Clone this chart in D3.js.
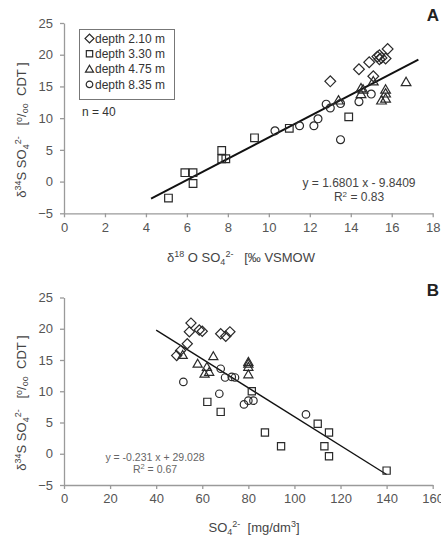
<!DOCTYPE html>
<html><head><meta charset="utf-8">
<script src="https://cdn.jsdelivr.net/npm/d3@7/dist/d3.min.js"></script>
<style>
html,body{margin:0;padding:0;background:#fff;}
svg text{font-family:"Liberation Sans",Arial,sans-serif;}
</style></head>
<body><svg id="c" width="441" height="538"></svg>
<script>
// ---------- DATA ----------
const depthLabels = ["depth 2.10 m","depth 3.30 m","depth 4.75 m","depth 8.35 m"];
const symbolsByDepth = ["diamond","square","triangle","circle"];

// Panel A: d18O (x) vs d34S (y)
const A_d210_x = [13.0,14.4,15.1,14.9,15.3,15.4,15.5,15.4,15.8,15.7];
const A_d210_y = [15.8,17.7,16.6,18.8,19.7,19.9,19.5,19.3,20.9,19.4];
const A_d330_x = [5.1,5.9,6.3,6.3,7.7,7.7,7.9,9.3,11.0,13.9];
const A_d330_y = [-2.6,1.4,1.4,-0.3,4.9,3.6,3.6,6.9,8.4,10.2];
const A_d475_x = [16.7,15.1,14.5,14.6,14.5,15.7,15.7,15.5,15.7,13.4];
const A_d475_y = [15.7,15.8,14.7,14.5,13.8,14.5,13.9,12.8,13.1,12.8];
const A_d835_x = [10.3,11.5,12.2,12.4,12.8,13.0,13.5,14.4,15.0,13.5];
const A_d835_y = [8.0,8.8,8.8,9.9,12.2,11.6,12.3,12.6,13.8,6.6];

// Panel B: SO4 (x) vs d34S (y)
const B_d210_x = [55.1,54.4,58.7,60.0,68.0,70.2,72.0,53.5,50.6,48.9];
const B_d210_y = [20.9,19.5,19.8,19.6,19.2,18.8,19.5,17.6,16.5,15.7];
const B_d330_x = [62.2,68.0,81.5,87.2,94.2,110.1,115.0,113.0,115.0,140.0];
const B_d330_y = [8.3,6.7,10.0,3.4,1.2,4.8,3.4,1.2,-0.4,-2.7];
const B_d475_x = [51.5,58.0,64.8,62.0,61.0,63.0,80.0,80.0,80.0,80.0];
const B_d475_y = [15.8,14.4,15.6,13.9,12.8,13.1,14.4,13.9,12.7,14.7];
const B_d835_x = [51.8,67.4,69.9,72.8,74.2,78.1,80.0,82.2,105.0,68.0];
const B_d835_y = [11.5,9.6,12.2,12.3,12.2,7.9,8.5,8.5,6.3,13.6];

const fitA = {slope:1.6801, intercept:-9.8409, x0:4.25, x1:17.3};
const fitB = {slope:-0.231, intercept:29.028, x0:40, x1:140};

const xTicksA = [0,2,4,6,8,10,12,14,16,18];
const xTicksB = [0,20,40,60,80,100,120,140,160];
const yTicks = [-5,0,5,10,15,20,25];

// ---------- DRAW ----------
const svg = d3.select("#c");
const axisCol = "#9a9a9a", textCol = "#555", markCol = "#2a2a2a";

function symPath(kind, size){
  if(kind==="diamond") return d3.symbol(d3.symbolSquare, size)();
  if(kind==="square") return d3.symbol(d3.symbolSquare, size)();
  if(kind==="triangle") return d3.symbol(d3.symbolTriangle, size*0.7)();
  return d3.symbol(d3.symbolCircle, size*0.85)();
}
function drawSym(g, kind, x, y, size){
  g.append("path").attr("d", symPath(kind,size))
   .attr("transform", `translate(${x},${y})` + (kind==="diamond"?" rotate(45)":"") + (kind==="triangle"?" translate(0,0.8)":""))
   .attr("fill","none").attr("stroke",markCol).attr("stroke-width",1.2);
}

function panel(opts){
  const x = d3.scaleLinear().domain(opts.xdom).range([64, 432.7]);
  const y = d3.scaleLinear().domain([-5,25]).range([opts.yBot, opts.yTop]);
  const g = svg.append("g");
  const xa = g.append("g").attr("transform",`translate(0,${opts.yBot})`)
    .call(d3.axisBottom(x).tickValues(opts.xticks).tickSize(4).tickSizeOuter(0).tickPadding(5));
  const ya = g.append("g").attr("transform",`translate(64,0)`)
    .call(d3.axisLeft(y).tickValues(yTicks).tickSize(4).tickSizeOuter(0).tickPadding(7));
  [xa,ya].forEach(a=>{
    a.select(".domain").attr("stroke",axisCol).attr("stroke-width",1.3);
    a.selectAll(".tick line").attr("stroke",axisCol).attr("stroke-width",1.3);
    a.selectAll(".tick text").attr("fill",textCol).style("font-size","13px");
  });
  // regression line
  g.append("line")
   .attr("x1",x(opts.fit.x0)).attr("y1",y(opts.fit.slope*opts.fit.x0+opts.fit.intercept))
   .attr("x2",x(opts.fit.x1)).attr("y2",y(opts.fit.slope*opts.fit.x1+opts.fit.intercept))
   .attr("stroke","#111").attr("stroke-width",opts.lw);
  // points
  opts.series.forEach((s,i)=>{
    s.x.forEach((v,j)=> drawSym(g, symbolsByDepth[i], x(v), y(s.y[j]), opts.size));
  });
  return {x,y,g};
}

const pA = panel({xdom:[0,18], xticks:xTicksA, yTop:23, yBot:213.3, fit:fitA, lw:1.9, size:58,
  series:[{x:A_d210_x,y:A_d210_y},{x:A_d330_x,y:A_d330_y},{x:A_d475_x,y:A_d475_y},{x:A_d835_x,y:A_d835_y}]});
const pB = panel({xdom:[0,160], xticks:xTicksB, yTop:297.5, yBot:485, fit:fitB, lw:1.3, size:52,
  series:[{x:B_d210_x,y:B_d210_y},{x:B_d330_x,y:B_d330_y},{x:B_d475_x,y:B_d475_y},{x:B_d835_x,y:B_d835_y}]});

// panel letters
svg.append("text").attr("x",433).attr("y",21).attr("text-anchor","middle").attr("font-weight","bold")
  .style("font-size","17px").attr("fill","#222").text("A");
svg.append("text").attr("x",433).attr("y",296).attr("text-anchor","middle").attr("font-weight","bold")
  .style("font-size","17px").attr("fill","#222").text("B");

// legend
const lg = svg.append("g");
lg.append("rect").attr("x",79.5).attr("y",29.5).attr("width",95).attr("height",70)
  .attr("fill","#fff").attr("stroke","#777").attr("stroke-width",1);
depthLabels.forEach((t,i)=>{
  const yy = 38.5 + i*15.3;
  drawSym(lg, symbolsByDepth[i], 89.5, yy, 40);
  lg.append("text").attr("x",95).attr("y",yy+4.3).attr("fill","#333").style("font-size","12px").text(t);
});
svg.append("text").attr("x",82).attr("y",116).attr("fill","#333").style("font-size","12px").text("n = 40");

// equations
svg.append("text").attr("x",359).attr("y",187).attr("text-anchor","middle").attr("fill","#444")
  .style("font-size","12px").text("y = 1.6801 x - 9.8409");
const r2a = svg.append("text").attr("x",359).attr("y",201).attr("text-anchor","middle").attr("fill","#444").style("font-size","12px");
r2a.append("tspan").text("R");
r2a.append("tspan").attr("dy",-4).style("font-size","8px").text("2");
r2a.append("tspan").attr("dy",4).text(" = 0.83");

svg.append("text").attr("x",155).attr("y",460.5).attr("text-anchor","middle").attr("fill","#666")
  .style("font-size","10.5px").text("y = -0.231 x + 29.028");
const r2b = svg.append("text").attr("x",155).attr("y",473).attr("text-anchor","middle").attr("fill","#666").style("font-size","10.5px");
r2b.append("tspan").text("R");
r2b.append("tspan").attr("dy",-4).style("font-size","7.5px").text("2");
r2b.append("tspan").attr("dy",4).text(" = 0.67");

// axis titles
function supsub(t, parts, size){
  parts.forEach(p=>{
    const s = t.append("tspan").text(p.t);
    if(p.sup){ s.style("font-size",(size*0.7)+"px").attr("dy",-size*0.4); }
    else if(p.sub){ s.style("font-size",(size*0.7)+"px").attr("dy",size*0.3); }
    if(p.back) s.attr("dy",p.back);
  });
}
function xTitleA(){
  const t = svg.append("text").attr("x",241).attr("y",262).attr("text-anchor","middle").attr("fill","#444").style("font-size","13px");
  t.append("tspan").text("δ");
  t.append("tspan").attr("dy",-5).style("font-size","9px").text("18");
  t.append("tspan").attr("dy",5).text(" O SO");
  t.append("tspan").attr("dy",3).style("font-size","9px").text("4");
  t.append("tspan").attr("dy",-8).style("font-size","9px").text("2-");
  t.append("tspan").attr("dy",5).text("\u00a0\u00a0 [‰ VSMOW");
}
xTitleA();
(function(){
  const t = svg.append("text").attr("x",254).attr("y",532).attr("text-anchor","middle").attr("fill","#444").style("font-size","13px");
  t.append("tspan").text("SO");
  t.append("tspan").attr("dy",3).style("font-size","9px").text("4");
  t.append("tspan").attr("dy",-8).style("font-size","9px").text("2-");
  t.append("tspan").attr("dy",5).text("\u00a0 [mg/dm");
  t.append("tspan").attr("dy",-5).style("font-size","9px").text("3");
  t.append("tspan").attr("dy",5).text("]");
})();
function yTitle(cy){
  const t = svg.append("text").attr("transform",`translate(26,${cy}) rotate(-90)`).attr("text-anchor","middle")
    .attr("fill","#444").style("font-size","13px");
  t.append("tspan").text("δ");
  t.append("tspan").attr("dy",-5).style("font-size","9px").text("34");
  t.append("tspan").attr("dy",5).text("S SO");
  t.append("tspan").attr("dy",3).style("font-size","9px").text("4");
  t.append("tspan").attr("dy",-8).style("font-size","9px").text("2-");
  t.append("tspan").attr("dy",5).text("\u00a0\u00a0 [");
  t.append("tspan").attr("dy",-4).style("font-size","9px").text("o");
  t.append("tspan").attr("dy",4).text("/");
  t.append("tspan").attr("dy",2).style("font-size","9px").text("oo");
  t.append("tspan").attr("dy",-2).text("\u00a0\u00a0CDT ]");
}
yTitle(130);
yTitle(403);
</script></body></html>
